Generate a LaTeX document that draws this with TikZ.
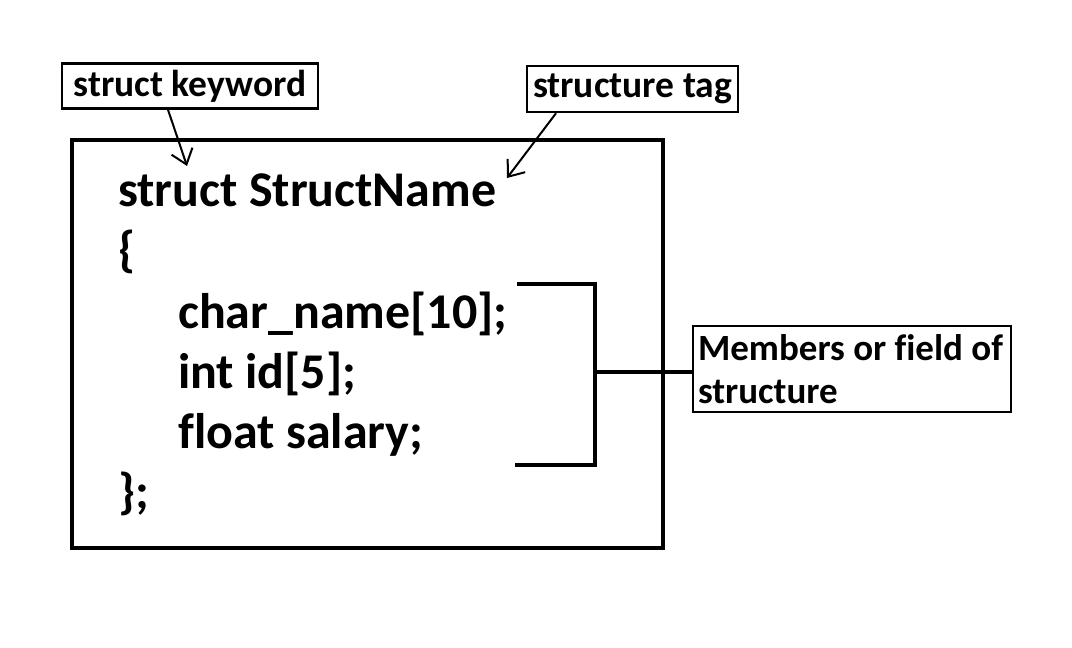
\documentclass[tikz,border=0pt]{standalone}
\usepackage{fontspec}
\setmainfont{Carlito}[Ligatures=NoCommon]
\usetikzlibrary{arrows.meta}
\begin{document}
\begin{tikzpicture}[x=1pt,y=-1pt,
  lbl/.style={draw,line width=2.5pt,inner sep=0pt,font=\fontsize{37.5}{44}\selectfont\bfseries},
  code/.style={anchor=base west,inner sep=0pt,font=\fontsize{50}{58}\selectfont\bfseries},
  thick4/.style={line width=4pt},
  arr/.style={line width=2pt,-{Straight Barb[length=14pt,width=22pt,line width=2pt]}}]
\useasboundingbox (0,0) rectangle (1072,648);
\draw[thick4] (72,140) rectangle (663,548);
\node[lbl,minimum width=256pt,minimum height=45pt] (kw) at (190,86) {struct keyword};
\node[lbl,minimum width=211pt,minimum height=46pt] (tag) at (632.5,89) {structure tag};
\node[lbl,minimum width=318pt,minimum height=86pt,align=flush left,text width=308pt,
  font=\fontsize{37}{43}\selectfont\bfseries] (mem) at (852,369) {Members or field of\\structure};
\node[code] (l1) at (118,206) {struct StructName};
\node[code] (l2) at (118,266) {\{};
\node[code] (l3) at (178,328) {char\_name[10];};
\node[code] (l4) at (178,388) {int id[5];};
\node[code] (l5) at (178,448) {float salary;};
\node[code] (l6) at (118,508) {\};};
\coordinate (bt) at (595,284);
\coordinate (bb) at (595,465);
\coordinate (bm) at (595,372);
\draw[thick4] (517,284) -- (bt) -- (bb) -- (515,465);
\draw[thick4] (bm) -- (mem.west |- bm);
\coordinate (a1) at (187,166);
\coordinate (a2) at (507,178);
\draw[arr] (kw.south -| 168,0) -- (a1);
\draw[arr] (tag.south -| 556,0) -- (a2);
\end{tikzpicture}
\end{document}
